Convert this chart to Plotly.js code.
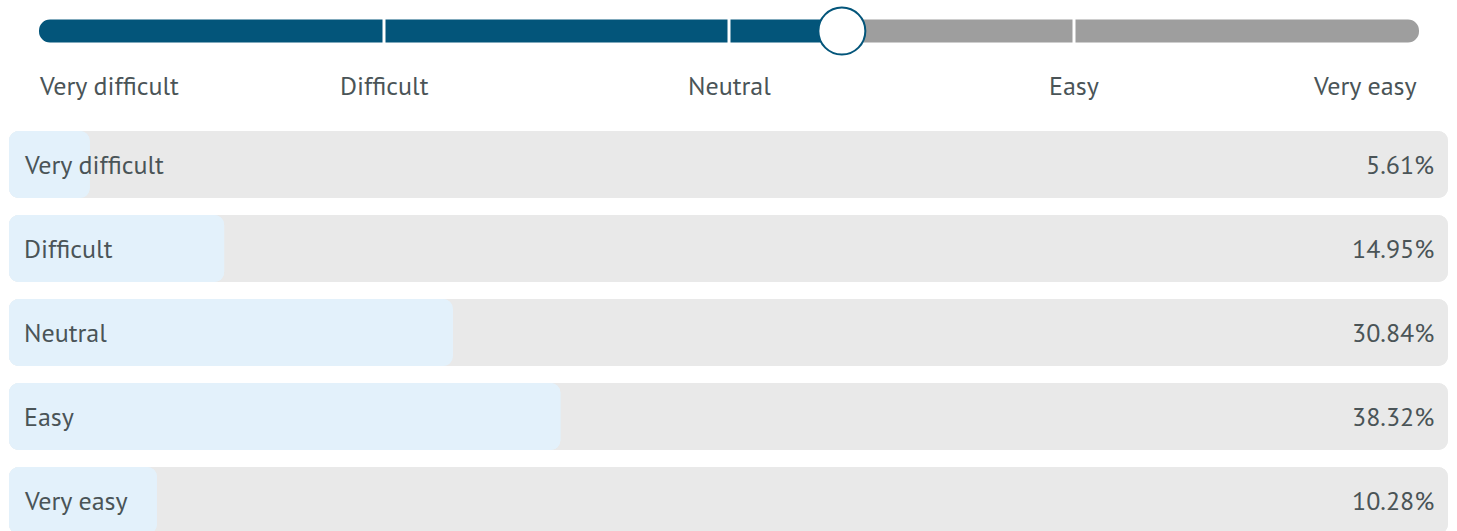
<!DOCTYPE html>
<html>
<head>
<meta charset="utf-8">
<script src="https://cdn.plot.ly/plotly-3.0.1.min.js"></script>
<style>html,body{margin:0;padding:0;background:#fff;}#chart{width:1457px;height:531px;}</style>
</head>
<body>
<div id="chart"></div>
<script>
const categories = ['Very difficult', 'Difficult', 'Neutral', 'Easy', 'Very easy'];
const percentages = [5.61, 14.95, 30.84, 38.32, 10.28];
const scalePoints = [1, 2, 3, 4, 5];

const total = percentages.reduce((a, b) => a + b, 0);
const mean = percentages.reduce((s, p, i) => s + p * scalePoints[i], 0) / total;

const W = 1457, H = 531;
const FONT = 'PT Sans, Lato, sans-serif';
const TEXT = '#4a5457';
const DARK = '#03557a';
const FS = 26;

// Each rounded rectangle is drawn twice over the same span, once growing
// rightwards and once leftwards, so both ends get Plotly's corner radius.
function roundedBar(values, y, color, radius, width, xa, ya) {
  return [
    {type: 'bar', orientation: 'h', y: y, base: values.map(() => 0), x: values,
     marker: {color: color, cornerradius: radius}, width: width, hoverinfo: 'skip', xaxis: xa, yaxis: ya},
    {type: 'bar', orientation: 'h', y: y, base: values, x: values.map(v => -v),
     marker: {color: color, cornerradius: radius}, width: width, hoverinfo: 'skip', xaxis: xa, yaxis: ya}
  ];
}

const traces = [].concat(
  roundedBar(categories.map(() => 100), categories, '#e9e9e9', 10, 0.8, 'x', 'y'),
  roundedBar(percentages, categories, '#e3f1fb', 10, 0.8, 'x', 'y'),
  [
    {type: 'bar', orientation: 'h', y: [0], base: [mean], x: [scalePoints[0] - mean],
     marker: {color: DARK, cornerradius: 11}, width: 0.742, hoverinfo: 'skip',
     xaxis: 'x2', yaxis: 'y2'},
    {type: 'bar', orientation: 'h', y: [0], base: [mean], x: [scalePoints[4] - mean],
     marker: {color: '#9e9e9e', cornerradius: 11}, width: 0.742, hoverinfo: 'skip',
     xaxis: 'x2', yaxis: 'y2'},
    {type: 'scatter', mode: 'markers', x: scalePoints.slice(1, 4), y: [0, 0, 0],
     marker: {symbol: 'line-ns', size: 23, line: {color: '#ffffff', width: 3}},
     hoverinfo: 'skip', xaxis: 'x2', yaxis: 'y2', cliponaxis: false},
    {type: 'scatter', mode: 'markers', x: [mean], y: [0],
     marker: {symbol: 'circle', size: 47, color: '#ffffff', line: {color: DARK, width: 2}},
     hoverinfo: 'skip', xaxis: 'x2', yaxis: 'y2', cliponaxis: false}
  ]
);

const annotations = [];
categories.forEach((c, i) => {
  annotations.push({xref: 'paper', yref: 'y', x: 25 / W, y: c, text: c, showarrow: false, xshift: -3,
    xanchor: 'left', yanchor: 'middle', font: {family: FONT, size: FS, color: TEXT}});
  annotations.push({xref: 'paper', yref: 'y', x: 1433 / W, y: c, text: percentages[i].toFixed(2) + '%',
    showarrow: false, xanchor: 'right', yanchor: 'middle', xshift: 3, font: {family: FONT, size: FS, color: TEXT}});
  const first = i === 0, last = i === categories.length - 1;
  annotations.push({xref: 'x2', yref: 'paper', x: scalePoints[i], y: 1 - 85 / H, text: c, showarrow: false,
    xanchor: first ? 'left' : (last ? 'right' : 'center'), yanchor: 'middle',
    xshift: first ? -2 : (last ? 0 : 0),
    font: {family: FONT, size: FS, color: TEXT}});
});

const layout = {
  width: W, height: H,
  margin: {l: 0, r: 0, t: 0, b: 0},
  paper_bgcolor: '#ffffff', plot_bgcolor: 'rgba(0,0,0,0)',
  barmode: 'overlay', showlegend: false,
  xaxis: {domain: [9 / W, 1448 / W], range: [0, 100], visible: false, fixedrange: true},
  yaxis: {domain: [0, 1], type: 'category', range: [4.363, -1.958], visible: false, fixedrange: true},
  xaxis2: {domain: [39 / W, 1419 / W], range: [1, 5], visible: false, anchor: 'y2', fixedrange: true},
  yaxis2: {domain: [1 - 62 / H, 1], range: [-1, 1], visible: false, anchor: 'x2', fixedrange: true},
  annotations: annotations
};

Plotly.newPlot('chart', traces, layout, {displayModeBar: false, staticPlot: true});
</script>
</body>
</html>
